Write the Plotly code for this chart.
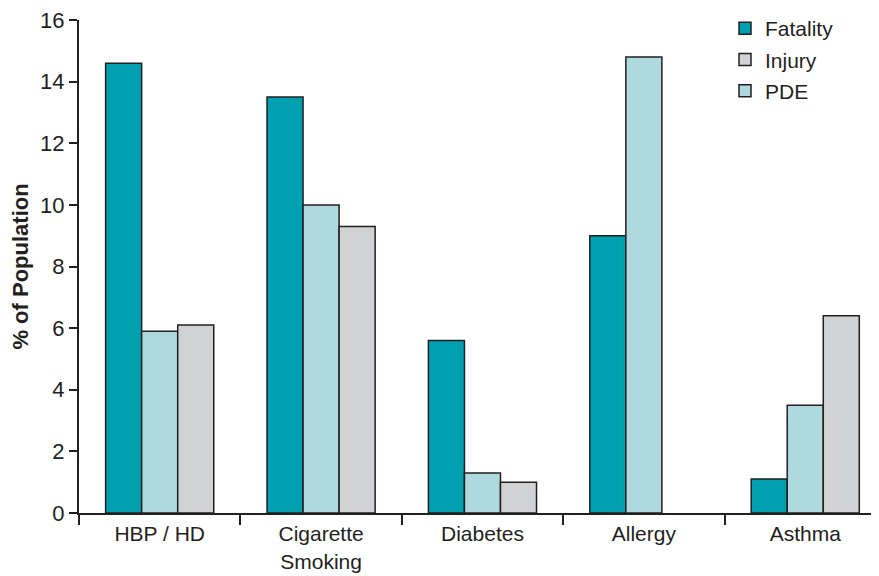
import plotly.graph_objects as go

categories = ["HBP / HD", "Cigarette<br>Smoking", "Diabetes", "Allergy", "Asthma"]
fatality = [14.6, 13.5, 5.6, 9.0, 1.1]
pde = [5.9, 10.0, 1.3, 14.8, 3.5]
injury = [6.1, 9.3, 1.0, None, 6.4]

colors = {"Fatality": "#00A0B0", "PDE": "#ADD9DF", "Injury": "#D1D2D4"}
edge = "#231F20"
font = "Liberation Sans, Arial, sans-serif"

fig = go.Figure()
for name, vals, rank in [("Fatality", fatality, 1), ("PDE", pde, 3), ("Injury", injury, 2)]:
    fig.add_trace(go.Bar(
        x=categories, y=vals, name=name, legendrank=rank, legendgroup=name,
        marker=dict(color=colors[name], line=dict(color=edge, width=1.5)),
    ))

fig.update_layout(
    width=879, height=576,
    barmode="group", bargap=0.33, bargroupgap=0,
    plot_bgcolor="white", paper_bgcolor="white",
    margin=dict(l=71, r=8, t=12, b=71, autoexpand=False),
    font=dict(family=font, size=21, color="#231F20"),
    showlegend=True,
    legend=dict(x=0.8075, y=1.0, xanchor="left", yanchor="top", yref="container",
                font=dict(size=21, family=font), tracegroupgap=1,
                bgcolor="rgba(0,0,0,0)"),
    xaxis=dict(
        type="category", range=[-0.5, 4.457],
        showline=True, linecolor=edge, linewidth=2,
        ticks="outside", tickson="boundaries", ticklen=10, tickwidth=1.5, tickcolor=edge,
        showgrid=False, tickfont=dict(size=21, family=font),
        ticklabelstandoff=1, ticklabeloverflow="allow",
    ),
    yaxis=dict(
        range=[0, 16], tickvals=[0, 2, 4, 6, 8, 10, 12, 14, 16],
        showline=True, linecolor=edge, linewidth=2,
        ticks="outside", ticklen=8, tickwidth=1.5, tickcolor=edge,
        showgrid=False, zeroline=False, ticklabeloverflow="allow",
        tickfont=dict(size=22, family=font),
        title=dict(text="<b>% of Population</b>", font=dict(size=22, family=font), standoff=8),
    ),
)

fig.write_html("out.html")
